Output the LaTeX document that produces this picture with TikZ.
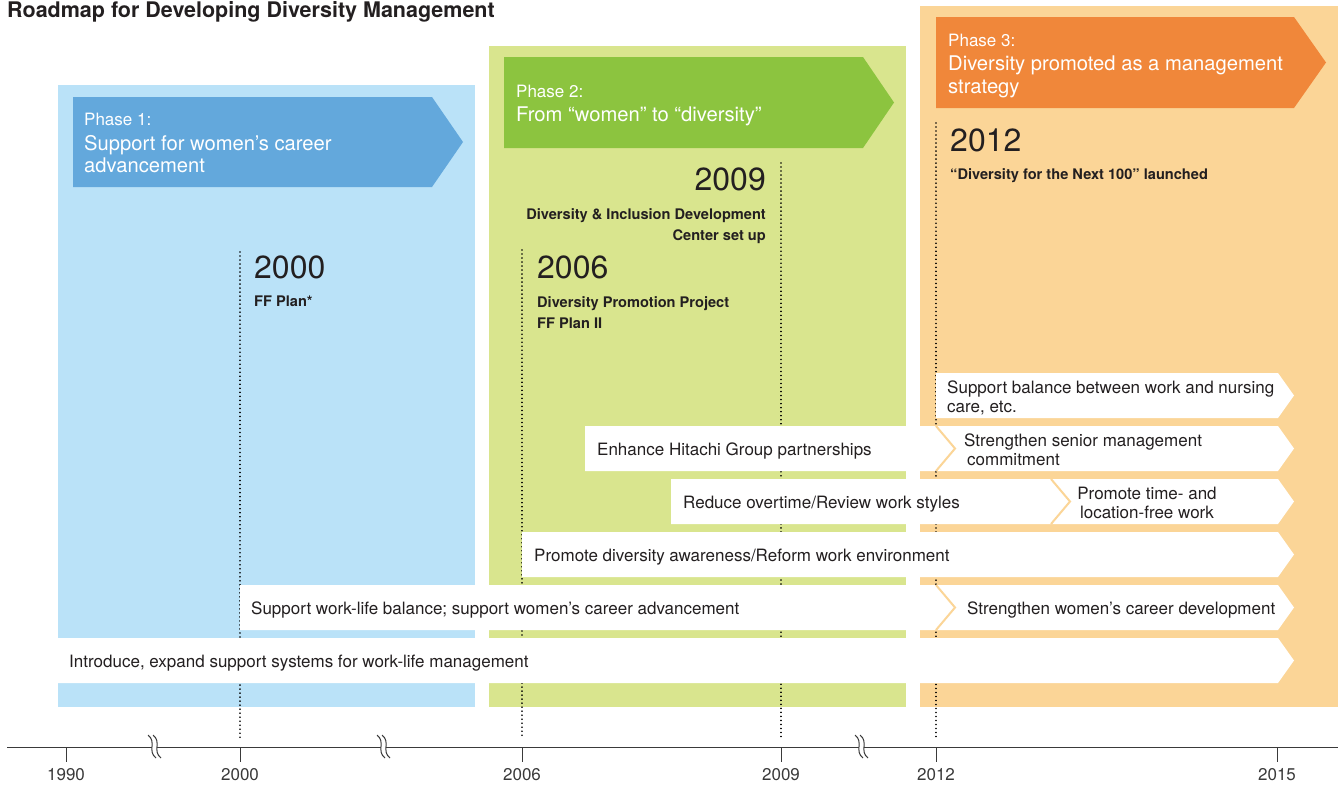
\documentclass[tikz,border=0pt]{standalone}
\usepackage{fontspec}
\setmainfont{TeX Gyre Heros}
\definecolor{bgblue}{HTML}{BAE2F8}
\definecolor{bnblue}{HTML}{63A8DC}
\definecolor{bggreen}{HTML}{D9E58E}
\definecolor{bngreen}{HTML}{8CC43F}
\definecolor{bgorange}{HTML}{FBD597}
\definecolor{bnorange}{HTML}{F0873A}
\definecolor{txtc}{HTML}{231F20}
\definecolor{axc}{HTML}{3A3A3A}
\tikzset{
  rowtext/.style={anchor=base west,inner sep=0pt,text=txtc,font=\fontsize{17}{19}\selectfont},
  rowtextc/.style={anchor=base,inner sep=0pt,text=txtc,font=\fontsize{17}{19}\selectfont},
  phsmall/.style={anchor=base west,inner sep=0pt,text=white,font=\fontsize{17}{20}\selectfont},
  phhead/.style={anchor=base west,inner sep=0pt,text=white,font=\fontsize{20.2}{23}\selectfont},
  yeartext/.style={anchor=base west,inner sep=0pt,text=txtc,font=\fontsize{32}{36}\selectfont},
  evtext/.style={anchor=base west,inner sep=0pt,text=txtc,font=\bfseries\fontsize{14.6}{17}\selectfont},
  axtext/.style={anchor=base,inner sep=0pt,text=axc,font=\fontsize{17}{20}\selectfont},
  rowarrow/.style={fill=white},
  chev/.style={draw=bgorange,line width=2pt},
  dotline/.style={draw=black,line width=1.7pt,line cap=round,dash pattern=on 0.01pt off 4pt},
  axline/.style={draw=axc,line width=1pt},
}
\begin{document}
\begin{tikzpicture}[x=1pt,y=-1pt]
\useasboundingbox (0,0) rectangle (1338,785);
% backgrounds
\fill[bgblue] (58,85) rectangle (475,707);
\fill[bggreen] (489,46) rectangle (906,707);
\fill[bgorange] (920,6) rectangle (1338,707);
% banners
\fill[bnblue] (73,97) -- (432,97) -- (463,142) -- (432,187) -- (73,187) -- cycle;
\fill[bngreen] (504,57) -- (863,57) -- (894,102.5) -- (863,148) -- (504,148) -- cycle;
\fill[bnorange] (936,17) -- (1294,17) -- (1326,62.5) -- (1294,108) -- (936,108) -- cycle;
% title
\node[anchor=base west,inner sep=0pt,text=txtc,font=\bfseries\fontsize{21.5}{24}\selectfont] (title) at (7,17) {Roadmap for Developing Diversity Management};
% banner texts
\node[phsmall] (p1a) at (84,125) {Phase 1:};
\node[phhead] (p1b) at (84,150) {Support for women’s career};
\node[phhead] (p1c) at (84,172) {advancement};
\node[phsmall] (p2a) at (516,97) {Phase 2:};
\node[phhead] (p2b) at (516,121) {From “women” to “diversity”};
\node[phsmall] (p3a) at (948,46) {Phase 3:};
\node[phhead] (p3b) at (948,70) {Diversity promoted as a management};
\node[phhead] (p3c) at (948,93) {strategy};
% dotted lines
\coordinate (d00t) at (240,252); \coordinate (d00b) at (240,738);
\coordinate (d06t) at (522,250); \coordinate (d06b) at (522,738);
\coordinate (d09t) at (781,163); \coordinate (d09b) at (781,738);
\coordinate (d12t) at (936,123); \coordinate (d12b) at (936,738);
\draw[dotline] (d00t) -- (d00b);
\draw[dotline] (d06t) -- (d06b);
\draw[dotline] (d09t) -- (d09b);
\draw[dotline] (d12t) -- (d12b);
% year labels
\node[yeartext] (y2000) at (254,278) {2000};
\node[evtext] (e2000) at (254,306) {FF Plan*};
\node[yeartext] (y2006) at (537,278) {2006};
\node[evtext] (e2006a) at (537,307) {Diversity Promotion Project};
\node[evtext] (e2006b) at (537,328) {FF Plan II};
\node[yeartext,anchor=base east] (y2009) at (766,190) {2009};
\node[evtext,anchor=base east] (e2009a) at (766,219) {Diversity \& Inclusion Development};
\node[evtext,anchor=base east] (e2009b) at (766,240) {Center set up};
\node[yeartext] (y2012) at (950,151) {2012};
\node[evtext] (e2012) at (950,179) {“Diversity for the Next 100” launched};
% white row arrows
\fill[rowarrow] (936,373) -- (1278,373) -- (1294,395.5) -- (1278,418) -- (936,418) -- cycle;
\fill[rowarrow] (585,426) -- (1278,426) -- (1294,448.5) -- (1278,471) -- (585,471) -- cycle;
\fill[rowarrow] (671,479) -- (1278,479) -- (1294,501.5) -- (1278,524) -- (671,524) -- cycle;
\fill[rowarrow] (522,532) -- (1278,532) -- (1294,554.5) -- (1278,577) -- (522,577) -- cycle;
\fill[rowarrow] (240,585) -- (1278,585) -- (1294,607.5) -- (1278,630) -- (240,630) -- cycle;
\fill[rowarrow] (58,638) -- (1278,638) -- (1294,660.5) -- (1278,683) -- (58,683) -- cycle;
% chevron joints
\draw[chev] (936,426) -- (955,448.5) -- (936,471);
\draw[chev] (1051,479) -- (1070,501.5) -- (1051,524);
\draw[chev] (936,585) -- (955,607.5) -- (936,630);
% row texts
\node[rowtext] (r1a) at (947,393) {Support balance between work and nursing};
\node[rowtext] (r1b) at (947,412) {care, etc.};
\node[rowtext] (r2a) at (597,455) {Enhance Hitachi Group partnerships};
\node[rowtext] (r2b) at (964,446) {Strengthen senior management};
\node[rowtext] (r2c) at (967,465) {commitment};
\node[rowtext] (r3a) at (683,508) {Reduce overtime/Review work styles};
\node[rowtextc] (r3b) at (1147,499) {Promote time- and};
\node[rowtextc] (r3c) at (1147,518) {location-free work};
\node[rowtext] (r4a) at (534,561) {Promote diversity awareness/Reform work environment};
\node[rowtext] (r5a) at (251,614) {Support work-life balance; support women’s career advancement};
\node[rowtext] (r5b) at (967,614) {Strengthen women’s career development};
\node[rowtext] (r6a) at (69,667) {Introduce, expand support systems for work-life management};
% axis
\coordinate (axl) at (7,747); \coordinate (axr) at (1338,747);
\draw[axline] (axl) -- (axr);
\foreach \xx/\lab in {66/1990,240/2000,522/2006,781/2009,936/2012,1277/2015}{
  \coordinate (t\lab) at (\xx,747);
  \draw[axline] (t\lab) -- ++(0,15);
  \node[axtext] (l\lab) at (\xx,780) {\lab};
}
% break marks
\foreach \bx in {152,381,859}{
  \fill[white] (\bx-4,735) .. controls (\bx+5,742) and (\bx-5,751) .. (\bx+4,758)
     -- (\bx+9,758) .. controls (\bx,751) and (\bx+10,742) .. (\bx+1,735) -- cycle;
  \draw[axline,line width=1pt] (\bx-4,735) .. controls (\bx+5,742) and (\bx-5,751) .. (\bx+4,758);
  \draw[axline,line width=1pt] (\bx+1,735) .. controls (\bx+10,742) and (\bx,751) .. (\bx+9,758);
}
\end{tikzpicture}
\end{document}
